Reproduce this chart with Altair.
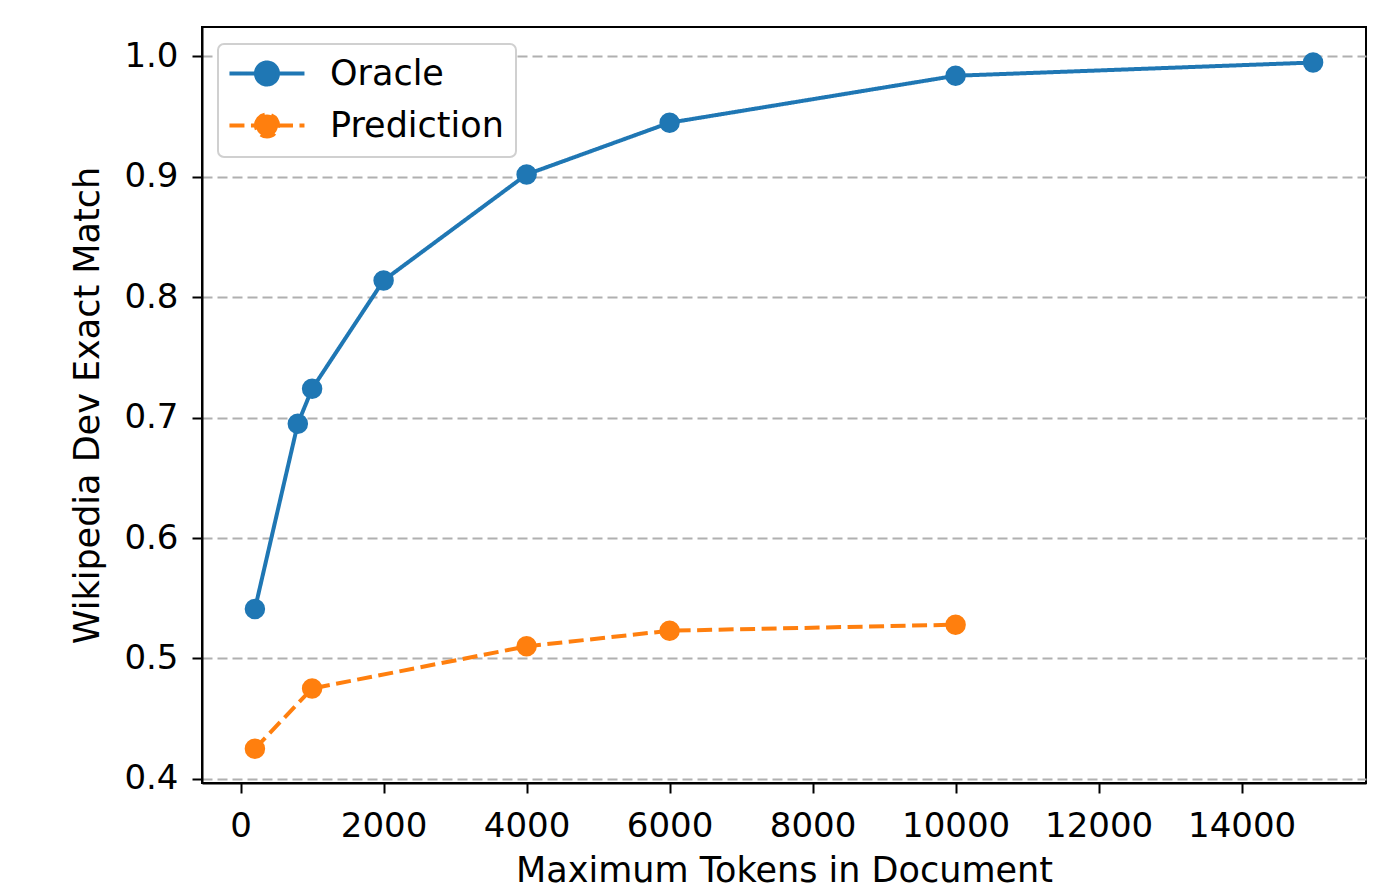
import altair as alt
import pandas as pd

oracle_x = [200, 800, 1000, 2000, 4000, 6000, 10000, 15000]
oracle_y = [0.541, 0.695, 0.724, 0.814, 0.902, 0.945, 0.984, 0.995]
pred_x = [200, 1000, 4000, 6000, 10000]
pred_y = [0.425, 0.475, 0.510, 0.523, 0.528]
series = ["Oracle", "Prediction"]
colors = ["#1f77b4", "#ff7f0e"]
x_ticks = [0, 2000, 4000, 6000, 8000, 10000, 12000, 14000]
y_ticks = [0.4, 0.5, 0.6, 0.7, 0.8, 0.9, 1.0]

df = pd.concat([
    pd.DataFrame({"x": oracle_x, "y": oracle_y, "s": "Oracle"}),
    pd.DataFrame({"x": pred_x, "y": pred_y, "s": "Prediction"}),
])

FONT = "DejaVu Sans"

xenc = alt.X("x:Q", scale=alt.Scale(domain=[-540, 15740], nice=False, zero=False),
             axis=alt.Axis(values=x_ticks, title="Maximum Tokens in Document", grid=False, format="d"))
yenc = alt.Y("y:Q", scale=alt.Scale(domain=[0.3965, 1.0245], nice=False, zero=False),
             axis=alt.Axis(values=y_ticks, title="Wikipedia Dev Exact Match", format=".1f",
                           grid=True, gridDash=[10, 5], gridColor="#b0b0b0", gridWidth=2))
color = alt.Color("s:N", scale=alt.Scale(domain=series, range=colors),
                  legend=alt.Legend(title=None, orient="none", legendX=16, legendY=17))
dash = alt.StrokeDash("s:N", scale=alt.Scale(domain=series, range=[[1, 0], [15, 6.5]]),
                      legend=alt.Legend(title=None, orient="none", legendX=16, legendY=17))

lines = alt.Chart(df).mark_line(strokeWidth=4).encode(x=xenc, y=yenc, color=color, strokeDash=dash, detail="s:N")
pts = alt.Chart(df).mark_point(filled=True, size=420, opacity=1, shape="circle").encode(
    x="x:Q", y="y:Q", color=alt.Color("s:N", legend=None))

# unit = 11 px; line spans about 75 px with the marker in its middle
path = "M-1.64,0H0.77M2.77,0H5.18M0.77,0A1,1 0 1,1 2.77,0A1,1 0 1,1 0.77,0Z"

chart = alt.layer(lines, pts).properties(
    width=1164, height=756,
    autosize=alt.AutoSizeParams(type="none"),
    padding={"left": 194, "top": 19, "right": 25, "bottom": 102},
).configure_view(stroke="black", strokeWidth=2).configure_axis(
    labelFont=FONT, titleFont=FONT, labelFontSize=34, titleFontSize=35,
    labelColor="black", titleColor="black", titleFontWeight="normal",
    domainColor="black", domainWidth=2, tickColor="black", tickWidth=2, tickSize=10,
).configure_axisX(labelPadding=16, titlePadding=10).configure_axisY(labelPadding=14, titlePadding=18).configure_legend(
    symbolType=path, symbolSize=484, symbolStrokeWidth=4, symbolFillColor=None,
    labelFont=FONT, labelFontSize=35, labelColor="black", labelLimit=0,
    padding=12, strokeColor="#d0d0d0", strokeWidth=2, fillColor="white", cornerRadius=6,
    rowPadding=13, labelOffset=65, symbolOffset=0,
)

chart.save("out.html", embed_options={"renderer": "svg", "actions": False})
